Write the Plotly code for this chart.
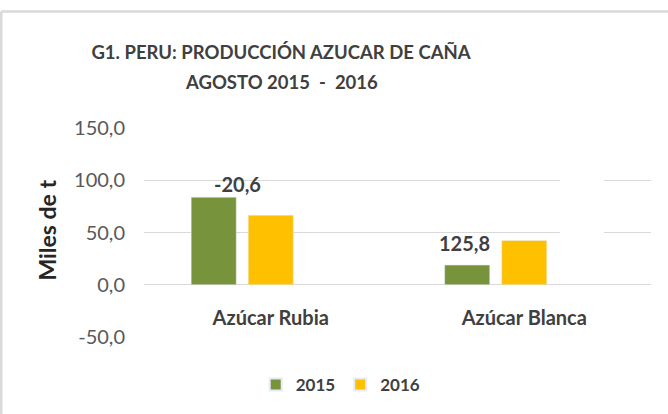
import plotly.graph_objects as go

categories = ["Azúcar Rubia", "Azúcar Blanca"]
v2015 = [83.8, 18.8]
v2016 = [66.5, 42.4]
variation = ["-20,6", "125,8"]
yticks = [-50, 0, 50, 100, 150]
yticklabels = ["-50,0", "0,0", "50,0", "100,0", "150,0"]
title_line1 = "G1. PERU: PRODUCCIÓN AZUCAR DE CAÑA"
title_line2 = "AGOSTO 2015  -  2016"

FONT = "Lato, 'Open Sans', sans-serif"

fig = go.Figure()
fig.add_trace(go.Bar(x=categories, y=v2015, name="2015", marker_color="#77933C"))
fig.add_trace(go.Bar(x=categories, y=v2016, name="2016", marker_color="#FFC000"))
# hidden third series slot (as in the original workbook)
fig.add_trace(go.Bar(x=categories, y=[None, None], name="var", showlegend=False,
                     marker_color="rgba(0,0,0,0)", hoverinfo="skip"))

# variation labels
for i, txt in enumerate(variation):
    fig.add_annotation(x=categories[i], y=v2015[i], text=f"<b>{txt}</b>",
                       xref="x", yref="y", showarrow=False,
                       xshift=[-33, -60][i], yshift=[13, 22][i],
                       xanchor="center", yanchor="middle",
                       font=dict(family=FONT, size=20, color="#404040"))

# second title line
fig.add_annotation(x=(281-144)/507, y=(338-82)/210, xref="paper", yref="paper",
                   text=f"<b>{title_line2}</b>", showarrow=False,
                   xanchor="center", yanchor="middle",
                   font=dict(family=FONT, size=18.5, color="#404040"))

# y axis title
fig.add_annotation(x=-0.191, y=0.51, xref="paper", yref="paper", text="<b>Miles de t</b>",
                   textangle=-90, showarrow=False, xanchor="center", yanchor="middle",
                   font=dict(family=FONT, size=23, color="#262626"))

shapes = [
    # chart frame (top and left border)
    dict(type="line", xref="paper", yref="paper", x0=-0.2815, x1=1.04, y0=1.557, y1=1.557,
         line=dict(color="#D9D9D9", width=2.5)),
    dict(type="line", xref="paper", yref="paper", x0=-0.2815, x1=-0.2815, y0=1.557, y1=-0.40,
         line=dict(color="#D9D9D9", width=2.5)),
    # white box interrupting gridlines
    dict(type="rect", xref="paper", yref="paper", x0=0.8205, x1=0.907, y0=0.371, y1=0.895,
         fillcolor="white", line=dict(width=0), layer="above"),
]

fig.update_layout(
    width=668, height=414,
    margin=dict(l=144, r=17, t=128, b=76),
    paper_bgcolor="white", plot_bgcolor="white",
    barmode="group", bargap=0.325, bargroupgap=0.21,
    title=dict(text=f"<b>{title_line1}</b>",
               x=281/668, xanchor="center", xref="container",
               y=1 - 53/414, yanchor="middle", yref="container",
               font=dict(family=FONT, size=18.5, color="#404040")),
    xaxis=dict(anchor="free", position=(338-285)/210, showline=False, showgrid=False,
               ticks="", ticklabelstandoff=20,
               tickfont=dict(family=FONT, size=20, color="#404040", weight="bold")),
    yaxis=dict(range=[-50, 150], tickvals=yticks, ticktext=yticklabels,
               showgrid=True, gridcolor="#D9D9D9", gridwidth=1.3,
               zeroline=False, showline=False, ticks="", ticklabelstandoff=18,
               tickfont=dict(family=FONT, size=20, color="#595959")),
    legend=dict(orientation="h", x=0.388, xanchor="center", y=-0.224, yanchor="middle",
                font=dict(family=FONT, size=17, color="#404040", weight="bold"),
                itemsizing="constant", itemwidth=30),
    shapes=shapes,
    showlegend=True,
)

fig.write_html("out.html", config={"displayModeBar": False},
               post_script="document.body.style.margin='0';")
